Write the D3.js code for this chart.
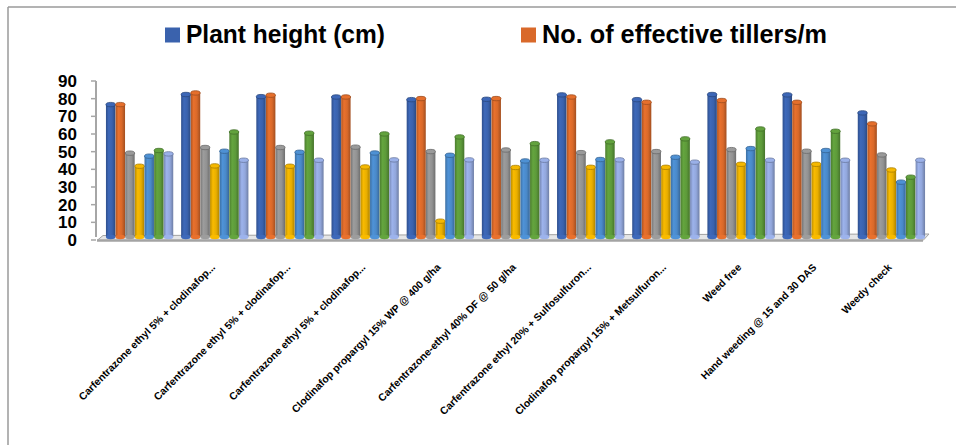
<!DOCTYPE html>
<html>
<head>
<meta charset="utf-8">
<script src="https://cdn.jsdelivr.net/npm/d3@7"></script>
<style>
  body { margin: 0; background: #fff; }
  svg { display: block; }
</style>
</head>
<body>
<svg id="chart" width="956" height="445"></svg>
<script>
// categories (first group has no label in the source chart)
var categories = ["",
    "Carfentrazone ethyl 5% + clodinafop...",
    "Carfentrazone ethyl 5% + clodinafop...",
    "Carfentrazone ethyl 5% + clodinafop...",
    "Clodinafop propargyl 15% WP @ 400 g/ha",
    "Carfentrazone-ethyl 40% DF @ 50 g/ha",
    "Carfentrazone ethyl 20% + Sulfosulfuron...",
    "Clodinafop propargyl 15% + Metsulfuron...",
    "Weed free",
    "Hand weeding @ 15 and 30 DAS",
    "Weedy check"];

var seriesNames = ["Plant height (cm)", "No. of effective tillers/m", "s3", "s4", "s5", "s6", "s7"];
var legendNames = ["Plant height (cm)", "No. of effective tillers/m"];

var s1 = [77.9, 83.6, 82.4, 82.2, 80.7, 80.9, 83.4, 80.7, 83.6, 83.4, 73.2];
var s2 = [77.9, 84.5, 83.2, 82.2, 81.3, 81.3, 82.2, 79.2, 80.2, 79.2, 67.0];
var s3 = [50.4, 53.6, 53.6, 53.8, 51.3, 52.2, 50.7, 51.3, 52.4, 51.5, 49.4];
var s4 = [43.0, 43.2, 43.0, 42.6, 11.9, 42.3, 42.4, 42.4, 44.1, 44.1, 40.9];
var s5 = [48.7, 51.5, 50.9, 50.5, 49.2, 46.0, 46.8, 48.1, 53.0, 51.9, 34.0];
var s6 = [51.9, 62.4, 61.7, 61.3, 59.6, 55.8, 56.8, 58.5, 64.1, 62.8, 36.8];
var s7 = [50.0, 46.4, 46.4, 46.6, 46.6, 46.4, 46.6, 45.3, 46.4, 46.4, 46.4];

var yTicks = [0, 10, 20, 30, 40, 50, 60, 70, 80, 90];

var colors = ["#3a62ad", "#d9692a", "#929292", "#e8ae00", "#4a89c9", "#5d9a3a", "#92a7dc"];

var series = [s1, s2, s3, s4, s5, s6, s7];

var svg = d3.select('#chart');

// chart frame (only top and left edges visible in the crop)
svg.append('line').attr('x1', 8).attr('y1', 7).attr('x2', 956).attr('y2', 7)
    .attr('stroke', '#9a9a9a').attr('stroke-width', 1.5);
svg.append('line').attr('x1', 8).attr('y1', 7).attr('x2', 8).attr('y2', 445)
    .attr('stroke', '#9a9a9a').attr('stroke-width', 1.5);

var x0 = d3.scaleBand().domain(d3.range(categories.length))
    .range([102, 929]).paddingInner(0.1).paddingOuter(0.05);
var x1 = d3.scaleBand().domain(d3.range(series.length))
    .range([0, x0.bandwidth()]).padding(0.02);
var y = d3.scaleLinear().domain([0, 90]).range([240, 81]);

// gradients for the cylinder look
var defs = svg.append('defs');
colors.forEach(function (c, i) {
    var g = defs.append('linearGradient').attr('id', 'cyl' + i)
        .attr('x1', '0%').attr('x2', '100%').attr('y1', '0%').attr('y2', '0%');
    var base = d3.color(c);
    g.append('stop').attr('offset', '0%').attr('stop-color', base.darker(0.6));
    g.append('stop').attr('offset', '30%').attr('stop-color', base.brighter(0.2));
    g.append('stop').attr('offset', '65%').attr('stop-color', base);
    g.append('stop').attr('offset', '100%').attr('stop-color', base.darker(0.8));
});

// axis wall + floor
var axisX = x0.range()[0] - 6;
var floorL = x0.range()[0] - 5, floorR = x0.range()[1] - 6;
svg.append('polygon')
    .attr('points', [[floorL, y(0) + 0.5], [floorR, y(0) + 0.5], [floorR + 6, y(0) - 6], [floorL + 6, y(0) - 4.5]].join(' '))
    .attr('fill', '#e6e6e6').attr('stroke', '#a3a3a3').attr('stroke-width', 1);
svg.append('line').attr('x1', floorL).attr('x2', floorR).attr('y1', y(0) + 0.5).attr('y2', y(0) + 0.5)
    .attr('stroke', '#a3a3a3').attr('stroke-width', 2.5);

svg.append('line').attr('x1', axisX).attr('x2', axisX).attr('y1', y(90)).attr('y2', y(0) - 3)
    .attr('stroke', '#a6a6a6').attr('stroke-width', 2);
svg.selectAll('line.tick').data(yTicks).enter().append('line').attr('class', 'tick')
    .attr('x1', axisX - 5).attr('x2', axisX)
    .attr('y1', function (d) { return y(d); }).attr('y2', function (d) { return y(d); })
    .attr('stroke', '#a6a6a6').attr('stroke-width', 1.5);

svg.selectAll('text.ylab').data(yTicks).enter().append('text').attr('class', 'ylab')
    .attr('x', 77).attr('y', function (d) { return y(d); }).attr('dy', '0.36em')
    .attr('text-anchor', 'end')
    .style('font-family', '"Liberation Sans", Arial, sans-serif')
    .style('font-weight', 'bold').style('font-size', '17px').style('fill', '#000')
    .text(function (d) { return d; });

// bars
var ry = 2.2;
var groups = svg.selectAll('g.grp').data(categories).enter().append('g').attr('class', 'grp')
    .attr('transform', function (d, i) { return 'translate(' + x0(i) + ',0)'; });

groups.each(function (cat, ci) {
    var g = d3.select(this);
    series.forEach(function (s, si) {
        var v = s[ci];
        var bx = x1(si), bw = x1.bandwidth();
        var top = y(v) + ry, bottom = y(0) - 3;
        g.append('rect').attr('x', bx).attr('y', top).attr('width', bw).attr('height', bottom - top)
            .attr('fill', 'url(#cyl' + si + ')');
        g.append('ellipse').attr('cx', bx + bw / 2).attr('cy', bottom).attr('rx', bw / 2).attr('ry', ry)
            .attr('fill', d3.color(colors[si]).brighter(0.2));
        g.append('ellipse').attr('cx', bx + bw / 2).attr('cy', top).attr('rx', bw / 2).attr('ry', ry)
            .attr('fill', d3.color(colors[si]).brighter(0.15))
            .attr('stroke', d3.color(colors[si]).darker(0.9)).attr('stroke-width', 0.8);
    });
});

// category labels
svg.selectAll('text.xlab').data(categories).enter().append('text').attr('class', 'xlab')
    .attr('text-anchor', 'end')
    .attr('transform', function (d, i) {
        return 'translate(' + (x0(i) + x0.bandwidth() / 2 + 1) + ',268) rotate(-45)';
    })
    .style('font-family', '"Liberation Sans", Arial, sans-serif')
    .style('font-weight', 'bold').style('font-size', '10.4px').style('fill', '#000')
    .text(function (d) { return d; });

// legend (only first two series are named)
var legendX = [165, 521];
var legendW = [199, 285];
legendNames.forEach(function (name, i) {
    svg.append('rect').attr('x', legendX[i]).attr('y', 27.5).attr('width', 15).attr('height', 15)
        .attr('fill', colors[i]);
    svg.append('text').attr('x', legendX[i] + 21).attr('y', 43)
        .attr('textLength', legendW[i]).attr('lengthAdjust', 'spacingAndGlyphs')
        .style('font-family', '"Liberation Sans", Arial, sans-serif')
        .style('font-weight', 'bold').style('font-size', '26px').style('fill', '#000')
        .text(name);
});
</script>
</body>
</html>
